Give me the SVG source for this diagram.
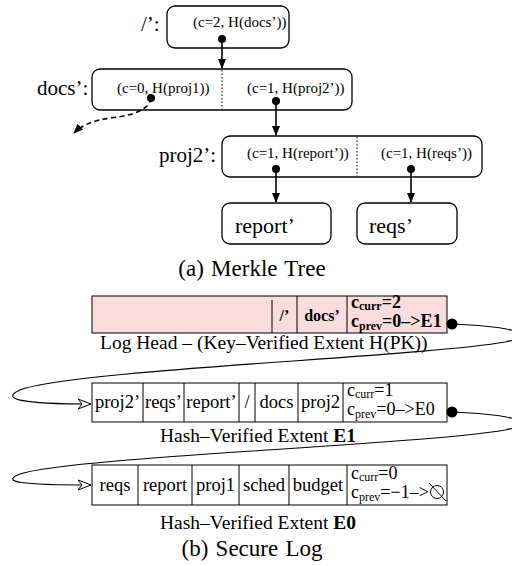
<svg xmlns="http://www.w3.org/2000/svg" width="512" height="566" viewBox="0 0 512 566">
<style>
text{font-family:'Liberation Serif','Times New Roman',serif;fill:#000}
.box{fill:#fff;stroke:#000;stroke-width:1.3}
.dot{fill:#000}
.dv{stroke:#000;stroke-width:1;stroke-dasharray:1.5 2}
.tup{font-size:15px}
.lbl{font-size:21px}
.leaf{font-size:22px}
.cap{font-size:23px;word-spacing:1.5px}
.cell{fill:#fff;stroke:#000;stroke-width:1}
.head{fill:#fbdcdc;stroke:#000;stroke-width:1}
.sep{stroke:#000;stroke-width:1}
.ct{font-size:18.5px;text-anchor:middle}
.cc{font-size:18px}
.sub{font-size:12px}
.b{font-weight:bold}
.arr{stroke:#000;stroke-width:1.6;fill:none;marker-end:url(#ah)}
.lnk{stroke:#000;stroke-width:1.1;fill:none;marker-end:url(#oh)}
</style>
<defs>
<marker id="ah" markerWidth="10" markerHeight="10" refX="9" refY="5" orient="auto" markerUnits="userSpaceOnUse"><path d="M0,1 L10,5 L0,9 Z" fill="#000"/></marker>
<marker id="oh" markerWidth="14" markerHeight="12" refX="13" refY="6" orient="auto" markerUnits="userSpaceOnUse"><path d="M0,1 L13,6 L0,11 L4,6 Z" fill="#fff" stroke="#000" stroke-width="1"/></marker>
</defs>

<g id="root">
<text class="lbl" x="141" y="31">/’:</text>
<rect class="box" x="167" y="6" width="122" height="42" rx="8"/>
<text class="tup" x="193" y="27">(c=2, H(docs’))</text>
</g>

<g id="docs">
<text class="lbl" x="37" y="95">docs’:</text>
<rect class="box" x="92" y="69" width="260" height="41" rx="8"/>
<line class="dv" x1="222" y1="70" x2="222" y2="109"/>
<text class="tup" x="117" y="93">(c=0, H(proj1))</text>
<text class="tup" x="247" y="93">(c=1, H(proj2’))</text>
</g>

<g id="proj2">
<text class="lbl" x="159" y="162">proj2’:</text>
<rect class="box" x="222" y="136" width="260" height="41" rx="8"/>
<line class="dv" x1="357" y1="137" x2="357" y2="176"/>
<text class="tup" x="247" y="158">(c=1, H(report’))</text>
<text class="tup" x="381" y="158">(c=1, H(reqs’))</text>
</g>

<g id="report">
<rect class="box" x="222" y="203" width="109" height="41" rx="8"/>
<text class="leaf" x="235" y="233">report’</text>
</g>

<g id="reqs">
<rect class="box" x="357" y="203" width="100" height="41" rx="8"/>
<text class="leaf" x="369" y="233">reqs’</text>
</g>

<text class="cap" x="252" y="276" text-anchor="middle">(a) Merkle Tree</text>

<g id="loghead">
<rect class="head" x="92" y="296" width="355" height="37"/>
<line class="sep" x1="272" y1="300" x2="272" y2="333"/>
<line class="sep" x1="297" y1="296" x2="297" y2="333"/>
<line class="sep" x1="347" y1="296" x2="347" y2="333"/>
<text class="ct b" x="284.5" y="321" style="font-size:16px">/’</text>
<text class="ct b" x="322" y="321" style="font-size:16px">docs’</text>
<text class="cc b" x="351" y="308">c<tspan class="sub" dy="2">curr</tspan><tspan dy="-2">=2</tspan></text>
<text class="cc b" x="351" y="327">c<tspan class="sub" dy="3">prev</tspan><tspan dy="-3">=0–&gt;E1</tspan></text>
<text class="cap" x="100" y="349" style="font-size:19.5px;word-spacing:0">Log Head – (Key–Verified Extent H(PK))</text>
</g>

<g id="extentE1">
<rect class="cell" x="92" y="383" width="355" height="39"/>
<line class="sep" x1="143" y1="383" x2="143" y2="422"/>
<line class="sep" x1="184" y1="383" x2="184" y2="422"/>
<line class="sep" x1="239" y1="383" x2="239" y2="422"/>
<line class="sep" x1="255" y1="383" x2="255" y2="422"/>
<line class="sep" x1="298" y1="383" x2="298" y2="422"/>
<line class="sep" x1="343" y1="383" x2="343" y2="422"/>
<text class="ct" x="117.5" y="408">proj2’</text>
<text class="ct" x="163.5" y="408">reqs’</text>
<text class="ct" x="211.5" y="408">report’</text>
<text class="ct" x="247" y="408">/</text>
<text class="ct" x="276.5" y="408">docs</text>
<text class="ct" x="320.5" y="408">proj2</text>
<text class="cc" x="347" y="396">c<tspan class="sub" dy="2">curr</tspan><tspan dy="-2">=1</tspan></text>
<text class="cc" x="347" y="415">c<tspan class="sub" dy="3">prev</tspan><tspan dy="-3">=0–&gt;E0</tspan></text>
<text class="cap" x="160" y="442" style="font-size:19.5px;word-spacing:0">Hash–Verified Extent <tspan class="b">E1</tspan></text>
</g>

<g id="extentE0">
<rect class="cell" x="92" y="465" width="355" height="40"/>
<line class="sep" x1="138" y1="465" x2="138" y2="505"/>
<line class="sep" x1="192" y1="465" x2="192" y2="505"/>
<line class="sep" x1="239" y1="465" x2="239" y2="505"/>
<line class="sep" x1="289" y1="465" x2="289" y2="505"/>
<line class="sep" x1="347" y1="465" x2="347" y2="505"/>
<text class="ct" x="115" y="491">reqs</text>
<text class="ct" x="165" y="491">report</text>
<text class="ct" x="215.5" y="491">proj1</text>
<text class="ct" x="264" y="491">sched</text>
<text class="ct" x="318" y="491">budget</text>
<text class="cc" x="351" y="479">c<tspan class="sub" dy="2">curr</tspan><tspan dy="-2">=0</tspan></text>
<text class="cc" x="351" y="498">c<tspan class="sub" dy="3">prev</tspan><tspan dy="-3">=−1–&gt;</tspan></text>
<circle cx="437" cy="492" r="6.5" fill="none" stroke="#000" stroke-width="1"/>
<line x1="429" y1="483" x2="446" y2="501" stroke="#000" stroke-width="1"/>
<text class="cap" x="160" y="529" style="font-size:19.5px;word-spacing:0">Hash–Verified Extent <tspan class="b">E0</tspan></text>
</g>

<text class="cap" x="252" y="556" text-anchor="middle">(b) Secure Log</text>

<g id="connectors">
<circle class="dot" cx="222" cy="39" r="4"/>
<path class="arr" d="M222,39 L222,68"/>
<circle class="dot" cx="151" cy="98" r="4"/>
<path class="arr" d="M151,98 Q149,114 110,118 Q86,121 74,133" stroke-dasharray="5 3.5" stroke-width="2.5"/>
<circle class="dot" cx="276" cy="101" r="4"/>
<path class="arr" d="M276,101 L276,135"/>
<circle class="dot" cx="276" cy="169" r="4"/>
<path class="arr" d="M276,169 L276,202"/>
<circle class="dot" cx="411" cy="169" r="4"/>
<path class="arr" d="M411,169 L411,202"/>
<path class="lnk" d="M452,324 C500,326 548,333 505,342 C420,357 70,370 20,390 C0,399 20,404 91,404"/>
<circle class="dot" cx="452" cy="324" r="5.5"/>
<path class="lnk" d="M452,412 C500,414 548,421 505,430 C420,445 70,457 20,474 C0,482 20,485 91,485"/>
<circle class="dot" cx="452" cy="412" r="5.5"/>
</g>
</svg>
